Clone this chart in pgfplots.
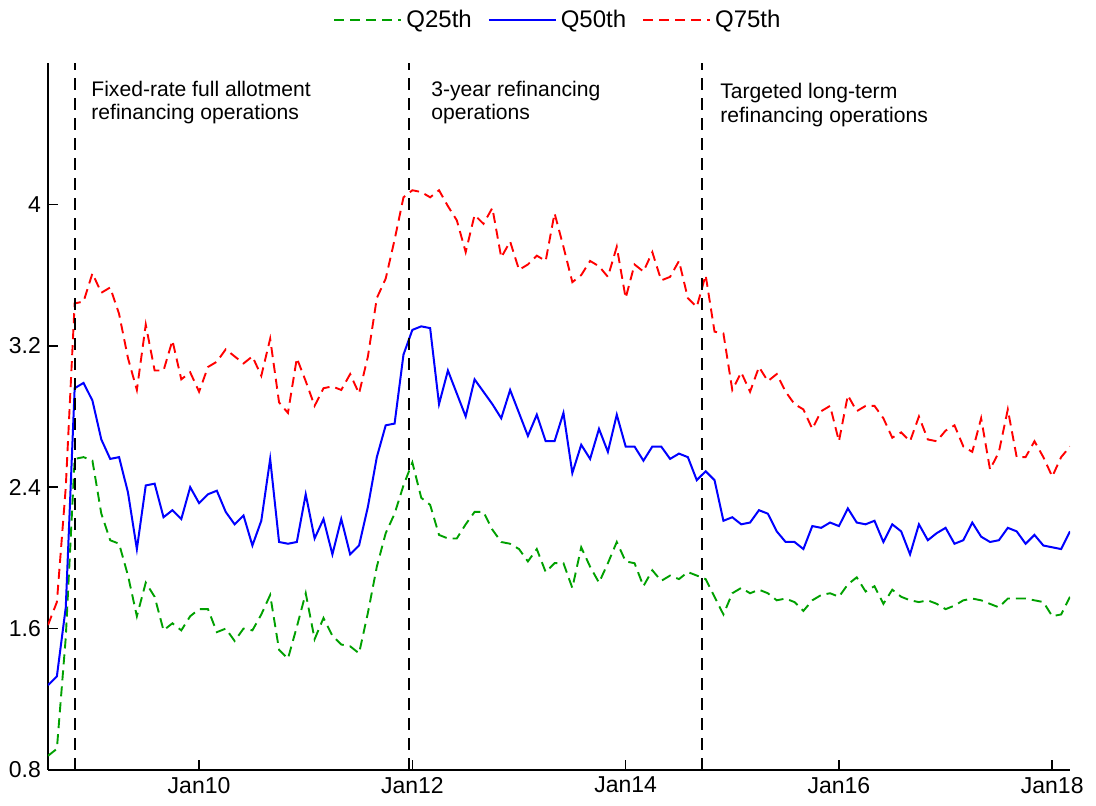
\documentclass[border=0pt]{standalone}
\usepackage{fontspec}
\setmainfont{Liberation Sans}
\usepackage{pgfplots}
\usepackage{pgfplotstable}
\pgfplotsset{compat=1.18}
\definecolor{qgreen}{RGB}{0,160,0}
\pgfplotstableread{
i q25 q50 q75
0 0.88 1.28 1.62
1 0.92 1.33 1.75
2 1.55 1.72 2.40
3 2.56 2.96 3.44
4 2.57 2.99 3.45
5 2.55 2.89 3.61
6 2.25 2.67 3.50
7 2.10 2.56 3.53
8 2.08 2.57 3.38
9 1.90 2.37 3.13
10 1.67 2.05 2.95
11 1.86 2.41 3.32
12 1.78 2.42 3.06
13 1.59 2.23 3.06
14 1.63 2.27 3.23
15 1.59 2.22 3.01
16 1.67 2.40 3.05
17 1.71 2.31 2.94
18 1.71 2.36 3.08
19 1.58 2.38 3.11
20 1.60 2.26 3.18
21 1.53 2.19 3.14
22 1.60 2.24 3.10
23 1.59 2.07 3.14
24 1.68 2.21 3.03
25 1.79 2.56 3.24
26 1.48 2.09 2.88
27 1.43 2.08 2.82
28 1.61 2.09 3.13
29 1.80 2.36 3.00
30 1.54 2.11 2.86
31 1.66 2.22 2.96
32 1.56 2.02 2.97
33 1.51 2.22 2.95
34 1.50 2.02 3.04
35 1.46 2.07 2.93
36 1.69 2.29 3.14
37 1.95 2.57 3.47
38 2.14 2.75 3.58
39 2.25 2.76 3.80
40 2.41 3.15 4.04
41 2.54 3.29 4.08
42 2.34 3.31 4.07
43 2.30 3.30 4.04
44 2.13 2.87 4.08
45 2.11 3.06 3.99
46 2.11 2.93 3.91
47 2.19 2.80 3.73
48 2.26 3.01 3.94
49 2.26 2.94 3.89
50 2.16 2.87 3.98
51 2.09 2.79 3.70
52 2.08 2.95 3.79
53 2.05 2.82 3.63
54 1.98 2.69 3.66
55 2.05 2.81 3.71
56 1.92 2.66 3.68
57 1.97 2.66 3.95
58 1.97 2.82 3.76
59 1.83 2.48 3.56
60 2.06 2.64 3.60
61 1.95 2.56 3.68
62 1.86 2.73 3.65
63 1.97 2.60 3.59
64 2.09 2.81 3.76
65 1.98 2.63 3.47
66 1.97 2.63 3.66
67 1.84 2.55 3.62
68 1.93 2.63 3.73
69 1.87 2.63 3.57
70 1.90 2.56 3.59
71 1.88 2.59 3.68
72 1.92 2.57 3.47
73 1.90 2.44 3.42
74 1.88 2.49 3.60
75 1.78 2.44 3.28
76 1.68 2.21 3.27
77 1.80 2.23 2.95
78 1.83 2.19 3.05
79 1.80 2.20 2.94
80 1.82 2.27 3.08
81 1.80 2.25 3.00
82 1.76 2.15 3.04
83 1.77 2.09 2.94
84 1.75 2.09 2.87
85 1.70 2.05 2.84
86 1.76 2.18 2.73
87 1.79 2.17 2.83
88 1.80 2.20 2.86
89 1.78 2.18 2.66
90 1.85 2.28 2.92
91 1.89 2.20 2.83
92 1.81 2.19 2.86
93 1.84 2.21 2.86
94 1.74 2.09 2.79
95 1.82 2.19 2.68
96 1.78 2.15 2.71
97 1.76 2.02 2.66
98 1.75 2.19 2.80
99 1.76 2.10 2.67
100 1.74 2.14 2.66
101 1.71 2.17 2.72
102 1.73 2.08 2.75
103 1.76 2.10 2.63
104 1.77 2.20 2.60
105 1.76 2.12 2.79
106 1.74 2.09 2.50
107 1.72 2.10 2.60
108 1.77 2.17 2.84
109 1.77 2.15 2.57
110 1.77 2.08 2.57
111 1.76 2.13 2.66
112 1.75 2.07 2.57
113 1.67 2.06 2.46
114 1.68 2.05 2.57
115 1.78 2.15 2.63
}\qdata
\begin{document}
\begin{tikzpicture}
\useasboundingbox (-24pt,-18pt) rectangle (524pt,385pt);
\begin{axis}[
  at={(0,0)}, anchor=south west,
  scale only axis, width=511pt, height=353.5pt,
  xmin=0, xmax=115, ymin=0.8, ymax=4.8,
  axis x line*=bottom, axis y line*=left,
  axis line style={-, line width=0.9pt},
  tick align=inside, major tick length=5pt,
  tick style={black, line width=0.8pt},
  xtick={17,41,65,89,113},
  xticklabels={Jan10,Jan12,Jan14,Jan16,Jan18},
  ytick={0.8,1.6,2.4,3.2,4},
  yticklabels={0.8,1.6,2.4,3.2,4},
  ticklabel style={font=\fontsize{11.5}{13}\selectfont},
  /pgf/number format/assume math mode=true,
  legend columns=3,
  legend style={draw=none, fill=none, at={(0.5,1.061)}, anchor=center,
    font=\fontsize{12}{14}\selectfont,
    /tikz/every even column/.append style={column sep=6pt}},
  legend image code/.code={\draw[#1] (0pt,0pt) -- (33.5pt,0pt);},
]
\addplot[qgreen, line width=0.95pt, dash pattern=on 5pt off 3pt] table[x=i,y=q25]{\qdata};
\addlegendentry{Q25th}
\addplot[blue, line width=1pt] table[x=i,y=q50]{\qdata};
\addlegendentry{Q50th}
\addplot[red, line width=0.95pt, dash pattern=on 5pt off 3pt] table[x=i,y=q75]{\qdata};
\addlegendentry{Q75th}
\draw[black, line width=0.9pt, dash pattern=on 6pt off 4pt] (axis cs:3,0.8) -- (axis cs:3,4.8);
\draw[black, line width=0.9pt, dash pattern=on 6pt off 4pt] (axis cs:40.65,0.8) -- (axis cs:40.65,4.8);
\draw[black, line width=0.9pt, dash pattern=on 6pt off 4pt] (axis cs:73.6,0.8) -- (axis cs:73.6,4.8);
\node[anchor=base west, inner sep=0pt, font=\fontsize{10.55}{13}\selectfont] at (axis cs:4.84,4.613) {Fixed-rate full allotment};
\node[anchor=base west, inner sep=0pt, font=\fontsize{10.55}{13}\selectfont] at (axis cs:4.84,4.478) {refinancing operations};
\node[anchor=base west, inner sep=0pt, font=\fontsize{10.55}{13}\selectfont] at (axis cs:43.1,4.613) {3-year refinancing};
\node[anchor=base west, inner sep=0pt, font=\fontsize{10.55}{13}\selectfont] at (axis cs:43.1,4.478) {operations};
\node[anchor=base west, inner sep=0pt, font=\fontsize{10.55}{13}\selectfont] at (axis cs:75.6,4.599) {Targeted long-term};
\node[anchor=base west, inner sep=0pt, font=\fontsize{10.55}{13}\selectfont] at (axis cs:75.6,4.463) {refinancing operations};
\end{axis}
\end{tikzpicture}
\end{document}
